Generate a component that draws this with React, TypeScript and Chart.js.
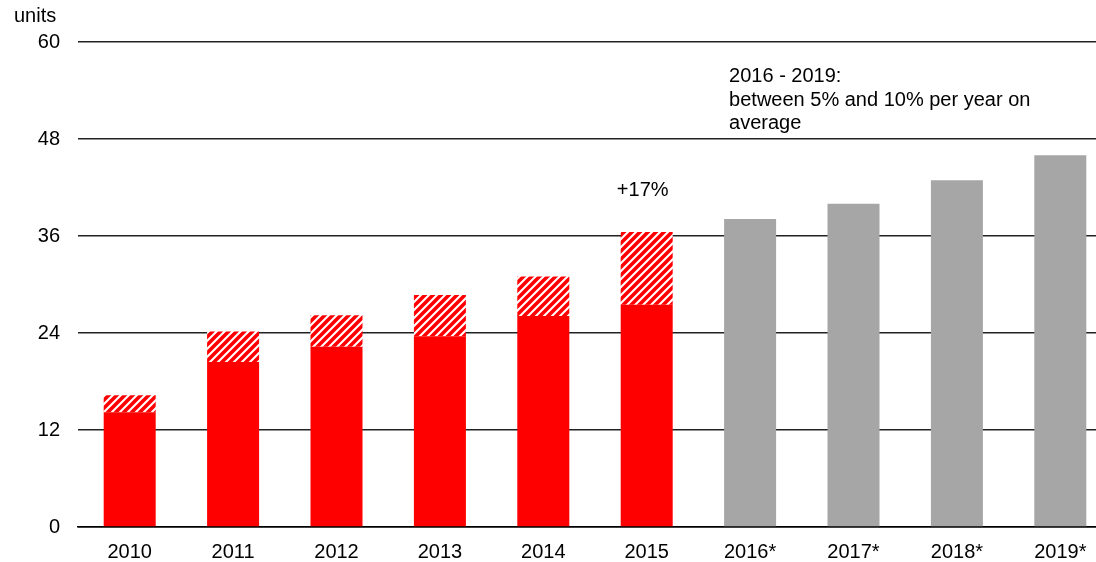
import React, { useEffect, useRef } from "react";
import { Chart, registerables } from "chart.js";

Chart.register(...registerables);

const years = ["2010", "2011", "2012", "2013", "2014", "2015", "2016*", "2017*", "2018*", "2019*"];
// solid part of each actual bar (2010-2015)
const baseValues = [14.2, 20.4, 22.3, 23.6, 26.1, 27.5];
// total height of each actual bar incl. hatched part (2010-2015)
const totalValues = [16.3, 24.2, 26.2, 28.7, 31.0, 36.5];
// forecast bars (2016-2019)
const forecastValues = [38.1, 40.0, 42.9, 46.0];
const yTicks = [0, 12, 24, 36, 48, 60];

const growthLabel = "+17%";
const growthLabelValue = 41;
const noteLines = ["2016 - 2019:", "between 5% and 10% per year on", "average"];
const noteValue = 55;
const unitLabel = "units";

const RED = "#ff0000";
const GREY = "#a6a6a6";
const FONT = "'Liberation Sans', Arial, sans-serif";

function makeHatch(): CanvasPattern | string {
  const c = document.createElement("canvas");
  c.width = 8;
  c.height = 8;
  const ctx = c.getContext("2d");
  if (!ctx) return RED;
  ctx.fillStyle = "#ffffff";
  ctx.fillRect(0, 0, 8, 8);
  ctx.strokeStyle = RED;
  ctx.lineWidth = 3.6;
  ctx.beginPath();
  ctx.moveTo(-2, 10);
  ctx.lineTo(10, -2);
  ctx.moveTo(-6, 6);
  ctx.lineTo(6, -6);
  ctx.moveTo(2, 14);
  ctx.lineTo(14, 2);
  ctx.stroke();
  const p = ctx.createPattern(c, "repeat");
  return p || RED;
}

export default function App() {
  const ref = useRef<HTMLCanvasElement | null>(null);

  useEffect(() => {
    if (!ref.current) return;
    Chart.defaults.font.family = FONT;
    const hatch = makeHatch();

    const solidData = [...baseValues, ...forecastValues];
    const solidColors = [...baseValues.map(() => RED), ...forecastValues.map(() => GREY)];
    const hatchData = [
      ...totalValues.map((t, i) => +(t - baseValues[i]).toFixed(2)),
      ...forecastValues.map(() => null),
    ];

    const annotations = {
      id: "annotations",
      afterDatasetsDraw(chart: any) {
        const { ctx, scales, chartArea } = chart;
        const xs = scales.x;
        const ys = scales.y;
        ctx.save();
        ctx.fillStyle = "#000";
        ctx.font = `20px ${FONT}`;
        ctx.textBaseline = "alphabetic";
        // unit label
        ctx.textAlign = "left";
        ctx.fillText(unitLabel, 14, chartArea.top - 20);
        // growth label above 2015
        ctx.textAlign = "center";
        ctx.fillText(growthLabel, xs.getPixelForValue(5) - 4, ys.getPixelForValue(growthLabelValue));
        // note
        const meta = chart.getDatasetMeta(0);
        const bar = meta.data[6];
        const left = bar.x - bar.width / 2 + 5;
        ctx.textAlign = "left";
        const y0 = ys.getPixelForValue(noteValue);
        noteLines.forEach((line, i) => ctx.fillText(line, left, y0 + i * 23.3));
        ctx.restore();
      },
    };

    const chart = new Chart(ref.current, {
      type: "bar",
      data: {
        labels: years,
        datasets: [
          {
            data: solidData,
            backgroundColor: solidColors,
            borderWidth: 0,
            categoryPercentage: 0.503,
            barPercentage: 1,
          },
          {
            data: hatchData as any,
            backgroundColor: hatch as any,
            borderWidth: 0,
            categoryPercentage: 0.503,
            barPercentage: 1,
          },
        ],
      },
      options: {
        responsive: false,
        animation: false,
        layout: { padding: { top: 42, left: 0, right: 0, bottom: 0 } },
        plugins: {
          legend: { display: false },
          tooltip: { enabled: false },
          title: { display: false },
        },
        scales: {
          x: {
            stacked: true,
            grid: { display: false, drawTicks: false },
            border: { display: true, color: "#000", width: 1.5 },
            ticks: { color: "#000", font: { size: 20, family: FONT }, padding: 13, maxRotation: 0, autoSkip: false },
            afterFit(scale: any) {
              scale.height = 35;
            },
          },
          y: {
            stacked: true,
            min: 0,
            max: 60,
            afterBuildTicks(scale: any) {
              scale.ticks = yTicks.map((v) => ({ value: v }));
            },
            grid: {
              drawTicks: false,
              color: (c: any) => (c.tick && c.tick.value === 0 ? "#000" : "#222"),
              lineWidth: 1.5,
            },
            border: { display: false },
            ticks: { color: "#000", font: { size: 20, family: FONT }, padding: 18 },
            afterFit(scale: any) {
              scale.width = 78;
            },
          },
        },
      },
      plugins: [annotations],
    });

    return () => chart.destroy();
  }, []);

  return (
    <div style={{ position: "fixed", left: 0, top: 0, width: 1096, height: 562, overflow: "hidden", background: "#fff" }}>
      <canvas ref={ref} width={1112} height={562} style={{ width: 1112, height: 562, display: "block" }} />
    </div>
  );
}
